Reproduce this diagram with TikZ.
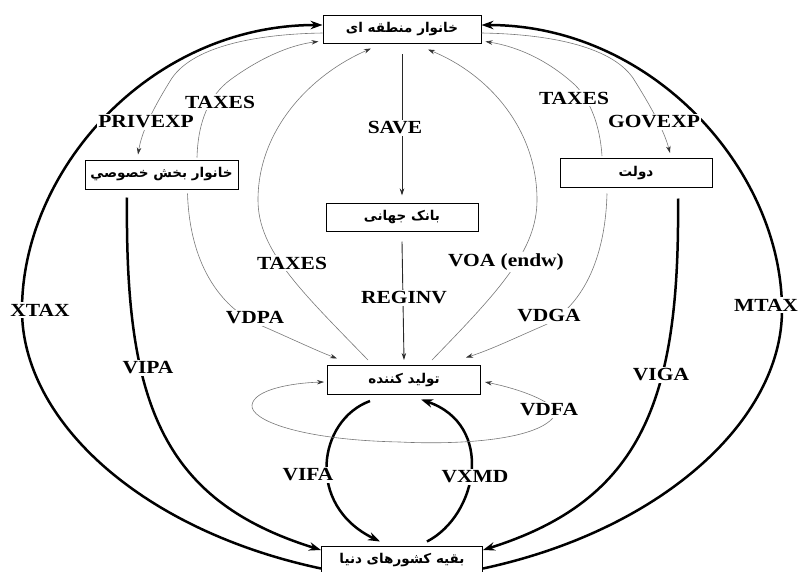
\documentclass[tikz,border=0pt]{standalone}
\usepackage{fontspec}
\setmainfont{Liberation Serif}
\newfontfamily\labfont{Liberation Serif}[FakeStretch=1.16]
\newfontfamily\arabicfont[Script=Arabic]{DejaVu Sans}
\TeXXeTstate=1
\usetikzlibrary{arrows.meta}
\definecolor{thinc}{RGB}{120,120,120}
\definecolor{midc}{RGB}{40,40,40}
\tikzset{
  box/.style={draw=black, line width=1pt, fill=white, minimum width=153pt,
    minimum height=29pt, inner sep=0pt,
    font=\arabicfont\bfseries\fontsize{13.5}{15}\selectfont},
  lab/.style={fill=white, inner sep=1.5pt,
    font=\labfont\bfseries\fontsize{18.5}{20}\selectfont},
  heavyflow/.style={line width=2.5pt, black, -{Stealth[length=12pt,width=8.5pt]}},
  lightflow/.style={line width=0.6pt, thinc, -{Stealth[length=7pt,width=4.5pt,color=black!80]}},
  lightboth/.style={line width=0.6pt, thinc, {Stealth[length=7pt,width=4.5pt,color=black!80]}-{Stealth[length=7pt,width=4.5pt,color=black!80]}},
  midflow/.style={line width=0.9pt, midc, -{Stealth[length=7pt,width=4.5pt]}}
}
\begin{document}
\begin{tikzpicture}[x=1pt,y=-1pt]
\useasboundingbox (0,0) rectangle (801,571);

% boxes
\node[box] (top)  at (402,29.5) [minimum width=158pt, minimum height=28pt] {\beginR خانوار منطقه ای\endR};
\node[box] (priv) at (161.5,174.5) {\beginR خانوار بخش خصوصي\endR};
\node[box] (gov)  at (636,173) [minimum width=152pt] {\beginR دولت\endR};
\node[box] (bank) at (402,217) [minimum width=152pt, minimum height=28pt] {\beginR بانک جهانی\endR};
\node[box] (prod) at (404,380) {\beginR تولید کننده\endR};
\node[box] (row)  at (402,560.5) [minimum width=161pt] {\beginR بقیه کشورهای دنیا\endR};

% outer thick arcs
\draw[heavyflow] ([yshift=-8pt]row.west) .. controls (140,530) and (22,420) .. (22,310)
   .. controls (22,170) and (150,25) .. ([yshift=4.5pt]top.west);
\draw[heavyflow] ([yshift=-8pt]row.east) .. controls (662,530) and (782,420) .. (782,310)
   .. controls (782,170) and (652,25) .. ([yshift=4.5pt]top.east);

% VIPA / VIGA
\draw[heavyflow] ([xshift=-34.5pt,yshift=-8pt]priv.south) .. controls (125,400) and (160,500) .. ([yshift=10.5pt]row.west);
\draw[heavyflow] ([xshift=42pt,yshift=-10.5pt]gov.south) .. controls (680,400) and (642,500) .. ([yshift=10.5pt]row.east);

% VIFA / VXMD
\draw[heavyflow] ([xshift=-34pt,yshift=-6pt]prod.south) .. controls (318,420) and (305,505) .. ([xshift=-22pt,yshift=4pt]row.north);
\draw[heavyflow] ([xshift=25pt,yshift=4pt]row.north) .. controls (478,515) and (495,425) .. ([xshift=17pt,yshift=-4.5pt]prod.south);

% VDFA loop
\draw[lightboth] ([xshift=4pt,yshift=-2pt]prod.east) .. controls (525,390) and (560,405) .. (555,415)
   .. controls (540,440) and (460,445) .. (400,442)
   .. controls (300,440) and (250,420) .. (252,405)
   .. controls (254,390) and (290,383) .. ([xshift=-3pt,yshift=-2pt]prod.west);

% SAVE / REGINV
\draw[midflow] ([yshift=-10pt]top.south) -- ([yshift=7pt]bank.north);
\draw[midflow] ([yshift=-10pt]bank.south) -- ([yshift=5pt]prod.north);

% inner TAXES / VOA
\draw[lightflow] ([xshift=-36pt,yshift=5pt]prod.north) .. controls (300,290) and (258,250) .. (258,200)
   .. controls (258,130) and (310,75) .. ([xshift=-31pt,yshift=-4.5pt]top.south);
\draw[lightflow] ([xshift=28pt,yshift=5pt]prod.north) .. controls (500,290) and (537,250) .. (537,200)
   .. controls (537,130) and (490,75) .. ([xshift=26pt,yshift=-5.5pt]top.south);

% VDPA / VDGA
\draw[lightflow] ([xshift=26pt,yshift=-4pt]priv.south) .. controls (190,270) and (225,310) .. (260,325)
   .. controls (290,338) and (315,350) .. ([xshift=-67pt,yshift=6.5pt]prod.north);
\draw[lightflow] ([xshift=-29pt,yshift=-5.5pt]gov.south) .. controls (605,270) and (575,310) .. (545,325)
   .. controls (515,338) and (490,350) .. ([xshift=62pt,yshift=7.5pt]prod.north);

% PRIVEXP / GOVEXP
\draw[lightflow] ([yshift=-3.5pt]top.west) .. controls (260,34) and (195,45) .. (172,78)
   .. controls (155,105) and (142,130) .. ([xshift=-23.5pt,yshift=5pt]priv.north);
\draw[lightflow] ([yshift=-3.5pt]top.east) .. controls (545,34) and (610,45) .. (633,78)
   .. controls (650,105) and (664,130) .. ([xshift=34pt,yshift=5pt]gov.north);

% upper TAXES
\draw[lightflow] ([xshift=35.5pt,yshift=2pt]priv.north) .. controls (198,120) and (210,95) .. (230,80)
   .. controls (260,58) and (290,45) .. ([xshift=-4pt,yshift=-12pt]top.west);
\draw[lightflow] ([xshift=-34pt,yshift=2pt]gov.north) .. controls (600,125) and (590,100) .. (575,85)
   .. controls (550,62) and (520,47) .. ([xshift=4pt,yshift=-12pt]top.east);

% labels
\node[lab] (lxtax) at (40,310) {XTAX};
\node[lab] (lmtax) at (766,305) {MTAX};
\node[lab] (lvipa) at (148,368) {VIPA};
\node[lab] (lviga) at (661,375) {VIGA};
\node[lab] (lvifa) at (308,475) {VIFA};
\node[lab] (lvxmd) at (475,477) {VXMD};
\node[lab] (lvdfa) at (549,410) {VDFA};
\node[lab] (lsave) at (395,128) {SAVE};
\node[lab] (lreginv) at (404,298) {REGINV};
\node[lab] (ltaxin) at (292,263) {TAXES};
\node[lab] (lvoa) at (506,262) {VOA (endw)};
\node[lab] (lvdpa) at (255,318) {VDPA};
\node[lab] (lvdga) at (549,316) {VDGA};
\node[lab] (lprivexp) at (146,122) {PRIVEXP};
\node[lab] (ltaxl) at (220,102) {TAXES};
\node[lab] (ltaxr) at (574,98) {TAXES};
\node[lab] (lgovexp) at (654,122) {GOVEXP};
\end{tikzpicture}
\end{document}
